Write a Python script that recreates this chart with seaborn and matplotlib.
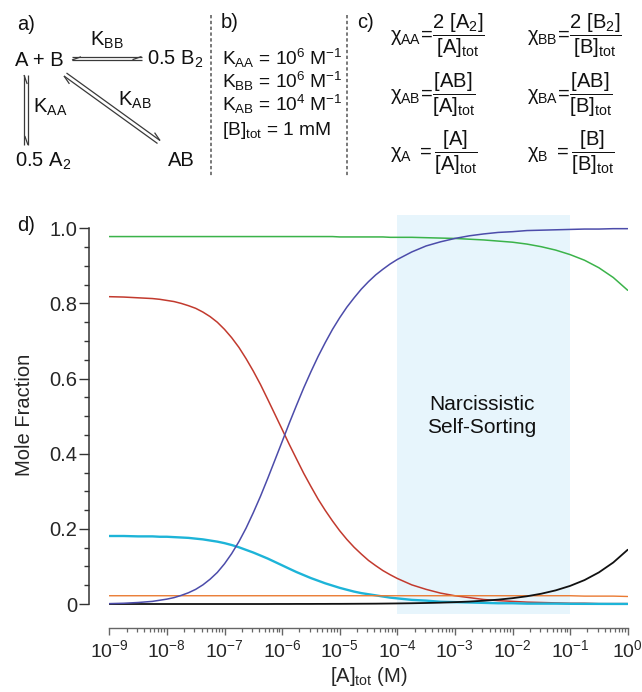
import numpy as np
import pandas as pd
import matplotlib
matplotlib.use("Agg")
import matplotlib.pyplot as plt
from matplotlib.ticker import LogLocator, FixedLocator, FixedFormatter, MultipleLocator
import seaborn as sns

# ---------------- data ----------------
conc = [1e-9, 1.78e-9, 3.16e-9, 5.62e-9,
        7.50e-9, 1e-8, 1.33e-8, 1.78e-8, 2.37e-8, 3.16e-8, 4.22e-8, 5.62e-8,
        7.50e-8, 1e-7, 1.33e-7, 1.78e-7, 2.37e-7, 3.16e-7, 4.22e-7, 5.62e-7,
        7.50e-7, 1e-6, 1.33e-6, 1.78e-6, 2.37e-6, 3.16e-6, 4.22e-6, 5.62e-6,
        7.50e-6, 1e-5, 1.33e-5, 1.78e-5, 2.37e-5, 3.16e-5, 4.22e-5, 5.62e-5,
        7.50e-5, 1e-4,
        1.78e-4, 3.16e-4, 5.62e-4,
        1e-3, 1.78e-3, 3.16e-3, 5.62e-3,
        1e-2, 1.78e-2, 3.16e-2, 5.62e-2,
        1e-1, 1.78e-1, 3.16e-1, 5.62e-1,
        1.0]

chi_AA = [0.001, 0.002, 0.004, 0.007,
          0.010, 0.013, 0.017, 0.023, 0.030, 0.039, 0.051, 0.066,
          0.084, 0.107, 0.134, 0.166, 0.202, 0.243, 0.287, 0.334,
          0.383, 0.432, 0.481, 0.529, 0.575, 0.618, 0.659, 0.696,
          0.731, 0.762, 0.790, 0.815, 0.838, 0.858, 0.876, 0.891,
          0.905, 0.917,
          0.937, 0.953, 0.964,
          0.973, 0.980, 0.985, 0.989,
          0.991, 0.994, 0.995, 0.996,
          0.997, 0.998, 0.998, 0.999,
          0.999]
chi_A = [0.818, 0.817, 0.815, 0.813,
         0.811, 0.808, 0.805, 0.800, 0.794, 0.787, 0.777, 0.765,
         0.750, 0.731, 0.709, 0.683, 0.653, 0.620, 0.584, 0.545,
         0.505, 0.465, 0.425, 0.386, 0.348, 0.313, 0.279, 0.249,
         0.221, 0.195, 0.172, 0.151, 0.133, 0.116, 0.102, 0.089,
         0.078, 0.068,
         0.051, 0.039, 0.029,
         0.022, 0.017, 0.012, 0.009,
         0.007, 0.005, 0.004, 0.003,
         0.002, 0.002, 0.001, 0.001,
         0.001]
chi_AB = [0.181, 0.181, 0.180, 0.180,
          0.179, 0.179, 0.178, 0.177, 0.176, 0.174, 0.172, 0.169,
          0.166, 0.162, 0.157, 0.151, 0.144, 0.137, 0.129, 0.121,
          0.112, 0.103, 0.094, 0.085, 0.077, 0.069, 0.062, 0.055,
          0.049, 0.043, 0.038, 0.033, 0.029, 0.026, 0.023, 0.020,
          0.017, 0.015,
          0.011, 0.009, 0.006,
          0.005, 0.004, 0.003, 0.002,
          0.002, 0.001, 0.001, 0.001,
          0.0005, 0.0004, 0.0003, 0.0002,
          0.0002]
chi_BB = [0.978, 0.978, 0.978, 0.978,
          0.978, 0.978, 0.978, 0.978, 0.978, 0.978, 0.978, 0.978,
          0.978, 0.978, 0.978, 0.978, 0.978, 0.978, 0.978, 0.978,
          0.978, 0.978, 0.978, 0.978, 0.978, 0.978, 0.978, 0.978,
          0.978, 0.977, 0.977, 0.977, 0.977, 0.977, 0.977, 0.977,
          0.976, 0.976,
          0.976, 0.975, 0.974,
          0.973, 0.971, 0.969, 0.966,
          0.963, 0.958, 0.951, 0.942,
          0.930, 0.915, 0.895, 0.869,
          0.835]
chi_B = [0.022, 0.022, 0.022, 0.022,
         0.022, 0.022, 0.022, 0.022, 0.022, 0.022, 0.022, 0.022,
         0.022, 0.022, 0.022, 0.022, 0.022, 0.022, 0.022, 0.022,
         0.022, 0.022, 0.022, 0.022, 0.022, 0.022, 0.022, 0.022,
         0.022, 0.022, 0.022, 0.022, 0.022, 0.022, 0.022, 0.022,
         0.022, 0.022,
         0.022, 0.022, 0.022,
         0.022, 0.022, 0.022, 0.022,
         0.022, 0.022, 0.022, 0.022,
         0.022, 0.021, 0.021, 0.021,
         0.020]
chi_BA = [0.0, 0.0, 0.0, 0.0,
          0.0, 0.0, 0.0, 0.0, 0.0, 0.0, 0.0, 0.0,
          0.0, 0.0, 0.0, 0.0, 0.0, 0.0, 0.0, 0.0,
          0.0001, 0.0001, 0.0001, 0.0002, 0.0002, 0.0002, 0.0003, 0.0003,
          0.0004, 0.0004, 0.0005, 0.0006, 0.0007, 0.0008, 0.0009, 0.0011,
          0.0013, 0.0015,
          0.0020, 0.0027, 0.0036,
          0.0049, 0.0065, 0.0087, 0.0116,
          0.0155, 0.0206, 0.0274, 0.0363,
          0.0482, 0.0637, 0.0841, 0.1105,
          0.1444]

series_names = ["chi_BB", "chi_A", "chi_AB", "chi_B", "chi_BA", "chi_AA"]
series_vals = [chi_BB, chi_A, chi_AB, chi_B, chi_BA, chi_AA]
series_colors = ["#3bb34a", "#c23a2e", "#1db4d8", "#ea7a32", "#111111", "#4c4caa"]
series_lw = [1.1, 1.1, 1.7, 1.0, 1.3, 1.1]

ytick_vals = [0.0, 0.2, 0.4, 0.6, 0.8, 1.0]
ytick_labels = ["0", "0.2", "0.4", "0.6", "0.8", "1.0"]
shade_range = [1e-4, 1e-1]

# ---------------- style ----------------
sns.set_style("ticks")
plt.rcParams["font.family"] = ["Liberation Sans", "DejaVu Sans"]
plt.rcParams["mathtext.fontset"] = "custom"
plt.rcParams["mathtext.rm"] = "Liberation Sans"
plt.rcParams["mathtext.it"] = "Liberation Sans"
plt.rcParams["mathtext.sf"] = "Liberation Sans"
plt.rcParams["mathtext.bf"] = "Liberation Sans:bold"
plt.rcParams["text.color"] = "#111111"

W, H = 642, 692
fig = plt.figure(figsize=(W / 100, H / 100), dpi=100)

# ---------------- main plot (panel d) ----------------
ax_l, ax_r, ax_t, ax_b = 109.3, 627.7, 215.0, 614.0
ax = fig.add_axes([ax_l / W, 1 - ax_b / H, (ax_r - ax_l) / W, (ax_b - ax_t) / H])

ax.axvspan(shade_range[0], shade_range[1], color="#e7f5fc", lw=0, zorder=0)

frames = []
for name, vals in zip(series_names, series_vals):
    frames.append(pd.DataFrame({"conc": conc, "frac": vals, "species": name}))
df = pd.concat(frames, ignore_index=True)

for name, col, lw in zip(series_names, series_colors, series_lw):
    sns.lineplot(data=df[df["species"] == name], x="conc", y="frac",
                 color=col, linewidth=lw, estimator=None, ax=ax,
                 legend=False, zorder=3)

ax.set_xscale("log")
ax.set_xlim(1e-9, 1.0)
ax.set_ylim(-0.0266, 1.0354)

for s in ["top", "right"]:
    ax.spines[s].set_visible(False)
ax.spines["left"].set_position(("outward", 14.4))
ax.spines["left"].set_bounds(0, 1)
ax.spines["left"].set_color("#333333")
ax.spines["left"].set_linewidth(1.1)
ax.spines["bottom"].set_position(("outward", 9.9))
ax.spines["bottom"].set_color("#666666")
ax.spines["bottom"].set_linewidth(1.0)

ax.yaxis.set_major_locator(FixedLocator(ytick_vals))
ax.yaxis.set_major_formatter(FixedFormatter(ytick_labels))
ax.yaxis.set_minor_locator(MultipleLocator(0.05))
ax.xaxis.set_major_locator(LogLocator(base=10, numticks=20))
ax.xaxis.set_minor_locator(LogLocator(base=10, subs=np.arange(2, 10), numticks=20))

ax.tick_params(axis="y", which="major", direction="out", length=7.2, width=1.0,
               color="#333333", labelsize=14.5, pad=1.5)
ax.tick_params(axis="y", which="minor", direction="out", length=3.6, width=1.0,
               color="#333333")
ax.tick_params(axis="x", which="major", direction="out", length=5.3, width=1.0,
               color="#666666", labelsize=14, pad=3)
ax.tick_params(axis="x", which="minor", direction="out", length=2.9, width=0.9,
               color="#666666")

ax.set_xlabel(r"[A]$_{\mathrm{tot}}$ (M)", fontsize=14.5)
ax.xaxis.set_label_coords(0.5, -0.128)
ax.set_ylabel("Mole Fraction", fontsize=14.5)
ax.yaxis.set_label_coords(-0.146, 0.5)

ax.text(2.92e-3, 0.50, "Narcissistic\nSelf-Sorting", ha="center", va="center",
        fontsize=15, linespacing=1.25, zorder=4)

# ---------------- overlay in pixel coordinates (panels a-c, d label) ----------------
ov = fig.add_axes([0, 0, 1, 1], zorder=5)
ov.set_xlim(0, W)
ov.set_ylim(H, 0)
ov.axis("off")
ov.patch.set_alpha(0)

FS = 14.5
def txt(x, y, s, **kw):
    kw.setdefault("fontsize", FS)
    kw.setdefault("ha", "left")
    kw.setdefault("va", "baseline")
    ov.text(x, y, s, **kw)

txt(17, 231, "d)")

# panel a
txt(17, 30.5, "a)")
txt(15, 65.5, "A + B")
txt(90, 46, r"K$_{\mathrm{BB}}$")
txt(147, 65, r"0.5 B$_{\mathrm{2}}$")
txt(33, 113, r"K$_{\mathrm{AA}}$")
txt(118, 106, r"K$_{\mathrm{AB}}$")
txt(15, 166.5, r"0.5 A$_{\mathrm{2}}$")
txt(168, 166.5, "AB")

def harpoon(p0, p1, side, L=9.0, w=3.2, color="#3a3a3a", lw=0.9):
    p0 = np.asarray(p0, float)
    p1 = np.asarray(p1, float)
    d = (p1 - p0) / np.hypot(*(p1 - p0))
    n = np.array([-d[1], d[0]]) * side
    ov.plot([p0[0], p1[0]], [p0[1], p1[1]], color=color, lw=lw,
            solid_capstyle="butt")
    b = p1 - L * d + w * n
    ov.plot([p1[0], b[0]], [p1[1], b[1]], color=color, lw=lw,
            solid_capstyle="butt")

# horizontal equilibrium A+B <=> 0.5 B2
harpoon((72, 56.5), (141.5, 56.5), side=1)
harpoon((141.5, 60.0), (72, 60.0), side=1)
# vertical equilibrium A+B <=> 0.5 A2
harpoon((24.0, 145), (24.0, 75), side=1)
harpoon((28.0, 75), (28.0, 145), side=1)
# diagonal equilibrium A+B <=> AB
harpoon((66.5, 73.0), (160.0, 140.5), side=-1)
harpoon((157.5, 143.5), (64.0, 76.0), side=-1)

# dashed separators
for xs in (210.5, 347.0):
    ov.plot([xs, xs], [15, 177], color="#555555", lw=1.1, dashes=(2.2, 1.6))

# panel b
FSB = 13.8
txt(221, 28, "b)")
txt(222, 65, r"K$_{\mathrm{AA}}$ = 10$^{\mathrm{6}}$ M$^{\mathrm{-1}}$", fontsize=FSB)
txt(222, 88, r"K$_{\mathrm{BB}}$ = 10$^{\mathrm{6}}$ M$^{\mathrm{-1}}$", fontsize=FSB)
txt(222, 111.5, r"K$_{\mathrm{AB}}$ = 10$^{\mathrm{4}}$ M$^{\mathrm{-1}}$", fontsize=FSB)
txt(222, 135, r"[B]$_{\mathrm{tot}}$ = 1 mM", fontsize=FSB)

# panel c
txt(357, 28, "c)")
txt(390, 42, r"$\chi_{\mathrm{AA}}\!=\!\dfrac{\mathrm{2\ [A_2]}}{\mathrm{[A]_{tot}}}$")
txt(527, 42, r"$\chi_{\mathrm{BB}}\!=\!\dfrac{\mathrm{2\ [B_2]}}{\mathrm{[B]_{tot}}}$")
txt(390, 101, r"$\chi_{\mathrm{AB}}\!=\!\dfrac{\mathrm{[AB]}}{\mathrm{[A]_{tot}}}$")
txt(527, 101, r"$\chi_{\mathrm{BA}}\!=\!\dfrac{\mathrm{[AB]}}{\mathrm{[B]_{tot}}}$")
txt(390, 159, r"$\chi_{\mathrm{A}}\ =\dfrac{\mathrm{[A]}}{\mathrm{[A]_{tot}}}$")
txt(527, 159, r"$\chi_{\mathrm{B}}\ =\dfrac{\mathrm{[B]}}{\mathrm{[B]_{tot}}}$")

fig.savefig("out.png", dpi=100)
